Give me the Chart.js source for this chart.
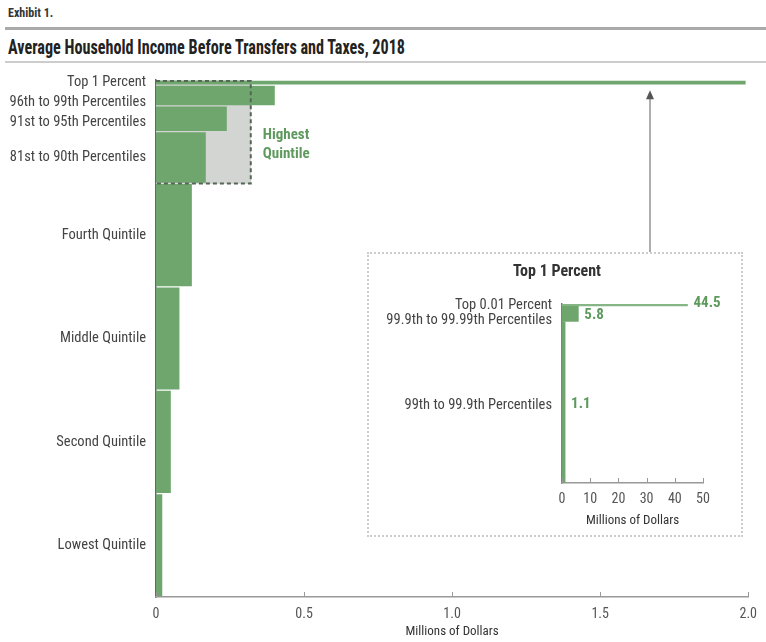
<!DOCTYPE html>
<html>
<head>
<meta charset="utf-8">
<script src="https://cdn.jsdelivr.net/npm/chart.js@4.4.1/dist/chart.umd.min.js"></script>
<style>
    body { margin: 0; background: #fff; font-family: "Liberation Sans Narrow", "Roboto Condensed", "DejaVu Sans Condensed", sans-serif; }
    #page { position: relative; width: 766px; height: 642px; overflow: hidden; }
    #exhibit { position: absolute; left: 8px; top: 6px; font-size: 12px; font-weight: bold; color: #333; }
    #topRule { position: absolute; left: 5px; right: 0; top: 27px; height: 3px; background: #aaa; }
    #title { position: absolute; left: 8px; top: 35px; font-size: 21px; font-weight: bold; color: #222; white-space: nowrap; transform-origin: left top; }
    #subRule { position: absolute; left: 5px; right: 0; top: 61px; height: 2px; background: #ccc; }
    #mainWrap { position: absolute; left: 0; top: 66px; width: 766px; height: 576px; }
    #insetBox { position: absolute; left: 367px; top: 252px; width: 372px; height: 281px; border: 2px dotted #ccc; background: #fff; }
    #insetWrap { position: absolute; left: 0; top: 0; width: 372px; height: 281px; }
</style>
</head>
<body>
<div id="page">
    <div id="exhibit">Exhibit 1.</div>
    <div id="topRule"></div>
    <div id="title"><span id="titleText">Average Household Income Before Transfers and Taxes, 2018</span></div>
    <div id="subRule"></div>
    <div id="mainWrap"><canvas id="incomeChart"></canvas></div>
    <div id="insetBox"><div id="insetWrap"><canvas id="topChart"></canvas></div></div>
</div>
<script>
// income groups, bottom to top; bounds are percentiles of households
const groups = ['Lowest Quintile', 'Second Quintile', 'Middle Quintile', 'Fourth Quintile',
    '81st to 90th Percentiles', '91st to 95th Percentiles', '96th to 99th Percentiles', 'Top 1 Percent'];
const groupLow = [0, 20, 40, 60, 80, 90, 95, 99];
const groupHigh = [20, 40, 60, 80, 90, 95, 99, 100];
const income = [0.02, 0.049, 0.078, 0.12, 0.167, 0.238, 0.40, 1.99]; // millions of dollars
const highestQuintile = 0.32;
const xTicks = [0, 0.5, 1.0, 1.5, 2.0];

// breakdown of the top 1 percent (share of the top 1 percent, 0-100)
const topGroups = ['99th to 99.9th Percentiles', '99.9th to 99.99th Percentiles', 'Top 0.01 Percent'];
const topLow = [0, 90, 99];
const topHigh = [90, 99, 100];
const topIncome = [1.1, 5.8, 44.5];
const topTicks = [0, 10, 20, 30, 40, 50];

const GREEN = '#6ea66e';
const GREEN_TEXT = '#5e9a5e';
const LABEL = '#444';
const FONT = '"Liberation Sans Narrow", "Roboto Condensed", "DejaVu Sans Condensed", sans-serif';

// squeeze the title to its column width
const titleText = document.getElementById('titleText');
const titleW = titleText.getBoundingClientRect().width;
document.getElementById('title').style.transform = 'scaleX(' + (397 / titleW) + ')';

function bandThickness(lo, hi, gap) {
    return function (ctx) {
        const y = ctx.chart.scales.y;
        if (!y) return 4;
        return Math.max(1, Math.abs(y.getPixelForValue(lo) - y.getPixelForValue(hi)) - gap);
    };
}

function buildBars(names, lows, highs, values, gap) {
    return names.map((name, i) => ({
        label: name,
        data: [{ x: values[i], y: (lows[i] + highs[i]) / 2 }],
        backgroundColor: GREEN,
        borderWidth: 0,
        barThickness: bandThickness(lows[i], highs[i], gap),
        order: 0
    }));
}

// small upward tick marks on the x axis
function drawInnerTicks(chart, ticks, len) {
    const c = chart.ctx, x = chart.scales.x, base = chart.chartArea.bottom;
    c.save();
    c.strokeStyle = '#999';
    c.lineWidth = 1;
    ticks.forEach(t => {
        const px = Math.round(x.getPixelForValue(t)) + 0.5;
        c.beginPath();
        c.moveTo(px, base);
        c.lineTo(px, base - len);
        c.stroke();
    });
    c.restore();
}

// right-aligned category labels, pushed apart where the bands are thin
function drawGroupLabels(chart, names, lows, highs, size, minGap, offsets) {
    const c = chart.ctx, y = chart.scales.y;
    const right = chart.chartArea.left - 10;
    c.save();
    c.font = size + 'px ' + FONT;
    c.fillStyle = LABEL;
    c.textAlign = 'right';
    c.textBaseline = 'middle';
    let prev = -Infinity;
    for (let i = names.length - 1; i >= 0; i--) {
        let py = y.getPixelForValue((lows[i] + highs[i]) / 2) + (offsets ? offsets[i] : 0);
        if (py < prev + minGap) py = prev + minGap;
        c.fillText(names[i], right, py);
        prev = py;
    }
    c.restore();
}

const mainPlugin = {
    id: 'mainDecor',
    afterDatasetsDraw(chart) {
        const c = chart.ctx, x = chart.scales.x, y = chart.scales.y;
        const x0 = x.getPixelForValue(0), x1 = x.getPixelForValue(highestQuintile);
        const yTop = y.getPixelForValue(100), yBot = y.getPixelForValue(80);

        // outline of the highest quintile average
        c.save();
        c.setLineDash([4, 3]);
        c.lineWidth = 2;
        c.strokeStyle = '#556655';
        c.beginPath();
        c.moveTo(x0, yTop + 1);
        c.lineTo(x1, yTop + 1);
        c.lineTo(x1, yBot);
        c.lineTo(x0, yBot);
        c.stroke();
        c.restore();

        c.save();
        c.font = 'bold 15px ' + FONT;
        c.fillStyle = GREEN_TEXT;
        c.textBaseline = 'middle';
        const mid = y.getPixelForValue(90);
        c.fillText('Highest', x1 + 12, mid + 4);
        c.fillText('Quintile', x1 + 12, mid + 23);
        c.restore();

        // pointer from the detail box up to the top 1 percent bar
        const ax = 650;
        const tipY = y.getPixelForValue(99) + 5;
        c.save();
        c.strokeStyle = '#777';
        c.fillStyle = '#555';
        c.lineWidth = 1.2;
        c.beginPath();
        c.moveTo(ax, 186);
        c.lineTo(ax, tipY + 6);
        c.stroke();
        c.beginPath();
        c.moveTo(ax, tipY);
        c.lineTo(ax - 4, tipY + 9);
        c.lineTo(ax + 4, tipY + 9);
        c.closePath();
        c.fill();
        c.restore();

        drawInnerTicks(chart, xTicks, 5);
        drawGroupLabels(chart, groups, groupLow, groupHigh, 14.5, 20);
    }
};

const mainDatasets = buildBars(groups, groupLow, groupHigh, income, 2);
mainDatasets.push({
    label: 'Highest Quintile',
    data: [{ x: highestQuintile, y: 90 }],
    backgroundColor: '#d3d5d3',
    borderWidth: 0,
    barThickness: bandThickness(80, 100, 0),
    order: 1
});

new Chart(document.getElementById('incomeChart'), {
    type: 'bar',
    data: { datasets: mainDatasets },
    options: {
        indexAxis: 'y',
        responsive: true,
        maintainAspectRatio: false,
        animation: false,
        grouped: false,
        layout: { padding: { left: 156, right: 14, top: 14, bottom: 0 } },
        plugins: { legend: { display: false }, tooltip: { enabled: false } },
        scales: {
            y: {
                type: 'linear', min: 0, max: 100, offset: false, display: true,
                grid: { display: false, drawTicks: false },
                border: { display: true, color: '#666', width: 1.5 },
                ticks: { display: false },
                afterFit(s) { s.width = 0; }
            },
            x: {
                type: 'linear', min: 0, max: 2.0,
                afterBuildTicks(s) { s.ticks = xTicks.map(v => ({ value: v })); },
                grid: { display: false, drawTicks: false },
                border: { display: true, color: '#999', width: 1.5 },
                ticks: {
                    color: '#555', padding: 9,
                    font: { family: FONT, size: 14 },
                    maxRotation: 0,
                    callback: v => v === 0 ? '0' : v.toFixed(1)
                },
                title: { display: true, text: 'Millions of Dollars', color: '#333', font: { family: FONT, size: 13 }, padding: { top: 2, bottom: 2 } },
                afterFit(s) { s.height = 45; }
            }
        }
    },
    plugins: [mainPlugin]
});

const topPlugin = {
    id: 'topDecor',
    afterDatasetsDraw(chart) {
        const c = chart.ctx, x = chart.scales.x, y = chart.scales.y;
        c.save();
        c.font = 'bold 16px ' + FONT;
        c.fillStyle = '#333';
        c.textAlign = 'center';
        c.textBaseline = 'middle';
        c.fillText('Top 1 Percent', 188, 18);

        // value labels next to each bar
        c.font = 'bold 15px ' + FONT;
        c.fillStyle = GREEN_TEXT;
        c.textAlign = 'left';
        const pos = [
            [x.getPixelForValue(topIncome[0]) + 6, y.getPixelForValue(45) + 2],
            [x.getPixelForValue(topIncome[1]) + 6, y.getPixelForValue(94.5) + 1],
            [x.getPixelForValue(topIncome[2]) + 6, y.getPixelForValue(99.5) - 2]
        ];
        topIncome.forEach((v, i) => c.fillText(v.toFixed(1), pos[i][0], pos[i][1]));
        c.restore();

        drawInnerTicks(chart, topTicks, 5);
        drawGroupLabels(chart, topGroups, topLow, topHigh, 14.5, 15, [3, 0, 0]);
    }
};

const topDatasets = buildBars(topGroups, topLow, topHigh, topIncome, 0);
topDatasets[1].barThickness = bandThickness(90, 99, 1);
topDatasets[2].barThickness = () => 2;
topDatasets[2].backgroundColor = '#86b586';

new Chart(document.getElementById('topChart'), {
    type: 'bar',
    data: { datasets: topDatasets },
    options: {
        indexAxis: 'y',
        responsive: true,
        maintainAspectRatio: false,
        animation: false,
        grouped: false,
        layout: { padding: { left: 193, right: 38, top: 50, bottom: 0 } },
        plugins: { legend: { display: false }, tooltip: { enabled: false } },
        scales: {
            y: {
                type: 'linear', min: 0, max: 100, offset: false, display: true,
                grid: { display: false, drawTicks: false },
                border: { display: true, color: '#6a8f6a', width: 1.5 },
                ticks: { display: false },
                afterFit(s) { s.width = 0; }
            },
            x: {
                type: 'linear', min: 0, max: 50,
                afterBuildTicks(s) { s.ticks = topTicks.map(v => ({ value: v })); },
                grid: { display: false, drawTicks: false },
                border: { display: true, color: '#999', width: 1.5 },
                ticks: { color: '#555', padding: 8, font: { family: FONT, size: 14 }, maxRotation: 0 },
                title: { display: true, text: 'Millions of Dollars', color: '#333', font: { family: FONT, size: 13 }, padding: { top: 2, bottom: 6 } },
                afterFit(s) { s.height = 52; }
            }
        }
    },
    plugins: [topPlugin]
});
</script>
</body>
</html>
